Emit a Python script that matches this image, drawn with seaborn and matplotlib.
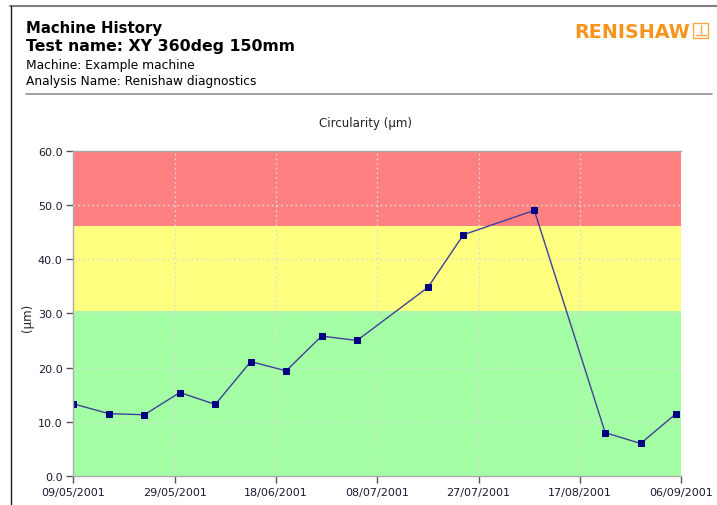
import numpy as np
import matplotlib
matplotlib.use('Agg')
import matplotlib.pyplot as plt
import matplotlib.dates as mdates
from matplotlib.lines import Line2D
from matplotlib.patches import Rectangle
import pandas as pd
import seaborn as sns

# measurement dates and circularity values (um)
dates = ['09/05/2001', '16/05/2001', '23/05/2001', '30/05/2001', '06/06/2001',
         '13/06/2001', '20/06/2001', '27/06/2001', '04/07/2001', '18/07/2001',
         '25/07/2001', '08/08/2001', '22/08/2001', '29/08/2001', '05/09/2001']
circularity = [13.3, 11.5, 11.3, 15.4, 13.2, 21.1, 19.4, 25.8, 25.0, 34.8,
               44.5, 49.0, 8.0, 6.0, 11.5]

# axis range and tick labels
x_start = '09/05/2001'
x_end = '06/09/2001'
tick_labels = ['09/05/2001', '29/05/2001', '18/06/2001', '08/07/2001',
               '27/07/2001', '17/08/2001', '06/09/2001']

# warning bands (um)
band_limits = [0, 30.5, 46.2, 60]
band_colors = ['#a4ffa4', '#ffff80', '#ff8080']

sns.set_style('white')
plt.rcParams['font.family'] = ['DejaVu Sans']
plt.rcParams['text.color'] = 'black'

df = pd.DataFrame({'date': pd.to_datetime(dates, dayfirst=True),
                   'circularity': circularity})

fig = plt.figure(figsize=(7.17, 5.06), dpi=100)
ax = fig.add_axes([0.1025, 0.0573, 0.8475, 0.6429])

for lo, hi, c in zip(band_limits[:-1], band_limits[1:], band_colors):
    ax.axhspan(lo, hi, color=c, lw=0, zorder=0)

sns.lineplot(x='date', y='circularity', data=df, ax=ax, color='#40409a', lw=1,
             marker='s', markersize=4.6, markerfacecolor='#000080',
             markeredgecolor='#000080', zorder=3)

t0 = pd.to_datetime(x_start, dayfirst=True)
t1 = pd.to_datetime(x_end, dayfirst=True)
ax.set_xlim(t0, t1)
ax.set_ylim(0, 60)
ticks = np.linspace(mdates.date2num(t0), mdates.date2num(t1), len(tick_labels))
ax.set_xticks(ticks)
ax.set_xticklabels(tick_labels)
ax.set_yticks(np.arange(0, 61, 10))
ax.set_yticklabels(['%.1f' % v for v in np.arange(0, 61, 10)])
ax.tick_params(axis='both', direction='out', length=5, width=1, color='#555555',
               labelsize=8, labelcolor='#1a1a33', pad=3, left=True, bottom=True)

ax.grid(True, linestyle=(0, (1.2, 2.2)), color='#dcdcdc', lw=1, zorder=1)
ax.set_axisbelow(False)
for ln in ax.get_xgridlines() + ax.get_ygridlines():
    ln.set_zorder(1)
for axis in [ax.xaxis, ax.yaxis]:
    mt = axis.get_major_ticks()
    mt[0].gridline.set_visible(False)
    mt[-1].gridline.set_visible(False)

ax.spines['right'].set_visible(False)
for s in ['left', 'bottom', 'top']:
    ax.spines[s].set_color('#aaaaaa')
    ax.spines[s].set_linewidth(1)
    ax.spines[s].set_zorder(4)
ax.set_xlabel('')
ax.set_ylabel('(µm)', fontsize=8.5, color='#222222', labelpad=12)
ax.yaxis.set_label_coords(-0.065, 0.49)

fig.text(365 / 717, 1 - 124 / 506, 'Circularity (µm)', fontsize=8.5, color='#222222',
         ha='center', va='center')

# header texts
fig.text(26 / 717, 1 - 29 / 506, 'Machine History', fontsize=10.7, weight='bold',
         ha='left', va='center')
fig.text(26 / 717, 1 - 47 / 506, 'Test name: XY 360deg 150mm', fontsize=11.3,
         weight='bold', ha='left', va='center')
fig.text(26 / 717, 1 - 65 / 506, 'Machine: Example machine', fontsize=8.8,
         ha='left', va='center')
fig.text(26 / 717, 1 - 81 / 506, 'Analysis Name: Renishaw diagnostics', fontsize=8.8,
         ha='left', va='center')

# logo
fig.text(574 / 717, 1 - 32 / 506, 'RENISHAW', fontsize=13.8, weight='bold',
         color='#f7941d', ha='left', va='center')
fig.add_artist(Rectangle((693 / 717, 1 - 39 / 506), 15 / 717, 15 / 506,
                         transform=fig.transFigure, fill=False, ec='#f7a64a', lw=1))
fig.add_artist(Line2D([700.5 / 717, 700.5 / 717], [1 - 26 / 506, 1 - 34 / 506],
                      transform=fig.transFigure, color='#f7a64a', lw=1))
fig.add_artist(Line2D([695.5 / 717, 705.5 / 717], [1 - 36 / 506, 1 - 36 / 506],
                      transform=fig.transFigure, color='#f7a64a', lw=1))

# frame lines
fig.add_artist(Line2D([10 / 717, 1], [1 - 7 / 506, 1 - 7 / 506],
                      transform=fig.transFigure, color='#808080', lw=1.5))
fig.add_artist(Line2D([10.5 / 717, 10.5 / 717], [0, 1 - 7 / 506],
                      transform=fig.transFigure, color='#222222', lw=1))
fig.add_artist(Line2D([26 / 717, 712 / 717], [1 - 95 / 506, 1 - 95 / 506],
                      transform=fig.transFigure, color='#909090', lw=1.2))

fig.savefig('out.png', dpi=100)
